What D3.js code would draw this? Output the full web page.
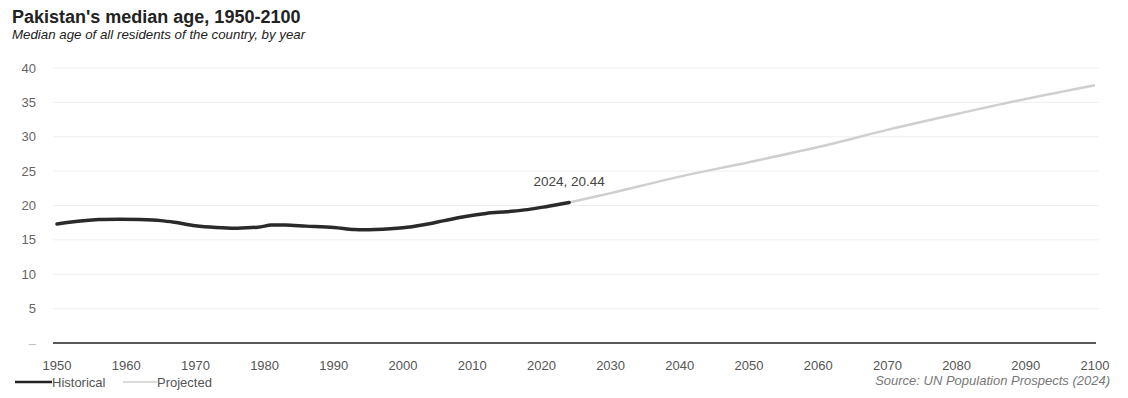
<!DOCTYPE html>
<html>
<script src="https://d3js.org/d3.v7.min.js"></script>
<style>
  body { margin: 0; background: #fff; }
  text { font-family: "Liberation Sans", Arial, sans-serif; }
</style>
<body>
<svg id="chart" width="1128" height="398"></svg>

<script>
    // historical median age
    const histYears = [1950, 1953, 1956, 1959, 1962, 1965, 1967, 1970, 1973, 1976, 1979, 1981, 1983, 1986, 1990, 1993, 1996, 2000, 2003, 2006, 2009, 2012, 2015, 2018, 2021, 2024];
    const histAge   = [17.3, 17.7, 17.95, 18.0, 17.95, 17.8, 17.55, 17.05, 16.8, 16.7, 16.85, 17.15, 17.15, 17.0, 16.8, 16.5, 16.5, 16.75, 17.2, 17.8, 18.4, 18.85, 19.1, 19.4, 19.9, 20.44];

    // projected
    const projYears = [2024, 2030, 2040, 2050, 2060, 2070, 2080, 2090, 2100];
    const projAge   = [20.44, 21.8, 24.2, 26.3, 28.5, 31.0, 33.3, 35.5, 37.5];

    const yTicks = [0, 5, 10, 15, 20, 25, 30, 35, 40];
    const xTicks = d3.range(1950, 2101, 10);

    const svg = d3.select("#chart");
    const margin = {left: 57, right: 33, top: 68, bottom: 55};
    const width = +svg.attr("width");
    const height = +svg.attr("height");

    const x = d3.scaleLinear().domain([1950, 2100]).range([margin.left, width - margin.right]);
    const y = d3.scaleLinear().domain([0, 40]).range([height - margin.bottom, margin.top]);

    // titles
    svg.append("text").attr("x", 12).attr("y", 23)
        .attr("font-size", 18).attr("font-weight", "bold").attr("fill", "#222")
        .text("Pakistan's median age, 1950-2100");
    svg.append("text").attr("x", 12).attr("y", 39)
        .attr("font-size", 13.3).attr("font-style", "italic").attr("fill", "#222")
        .text("Median age of all residents of the country, by year");

    // gridlines
    svg.append("g")
        .selectAll("line")
        .data(yTicks.filter(d => d > 0))
        .join("line")
        .attr("x1", x(1950) - 4).attr("x2", x(2100) + 4)
        .attr("y1", d => y(d)).attr("y2", d => y(d))
        .attr("stroke", "#efefef").attr("stroke-width", 1);

    // y labels
    svg.append("g")
        .selectAll("text")
        .data(yTicks)
        .join("text")
        .attr("x", 36).attr("y", d => y(d) + 4.5)
        .attr("text-anchor", "end")
        .attr("font-size", 13).attr("fill", d => d === 0 ? "#bbb" : "#666")
        .text(d => d === 0 ? "–" : d);

    // baseline
    svg.append("line")
        .attr("x1", x(1950) - 4).attr("x2", x(2100) + 1)
        .attr("y1", y(0)).attr("y2", y(0))
        .attr("stroke", "#222").attr("stroke-width", 1.5);

    // x labels
    svg.append("g")
        .selectAll("text")
        .data(xTicks)
        .join("text")
        .attr("x", d => x(d)).attr("y", 370)
        .attr("text-anchor", "middle")
        .attr("font-size", 13).attr("fill", "#555")
        .text(d => d);

    const line = d3.line()
        .x(d => x(d[0]))
        .y(d => y(d[1]))
        .curve(d3.curveCatmullRom.alpha(0.5));

    svg.append("path")
        .datum(d3.zip(projYears, projAge))
        .attr("fill", "none").attr("stroke", "#cfcfcf").attr("stroke-width", 2.5)
        .attr("d", line);

    svg.append("path")
        .datum(d3.zip(histYears, histAge))
        .attr("fill", "none").attr("stroke", "#2a2a2a").attr("stroke-width", 3.5)
        .attr("stroke-linecap", "round")
        .attr("d", line);

    // annotation
    svg.append("text")
        .attr("x", x(2024)).attr("y", y(20.44) - 16)
        .attr("text-anchor", "middle")
        .attr("font-size", 13.5).attr("fill", "#444")
        .text("2024,  20.44");

    // legend
    const legend = svg.append("g");
    legend.append("line").attr("x1", 15).attr("x2", 52).attr("y1", 382).attr("y2", 382)
        .attr("stroke", "#222").attr("stroke-width", 2.5);
    legend.append("text").attr("x", 52).attr("y", 386.5).attr("font-size", 13).attr("fill", "#555").text("Historical");
    legend.append("line").attr("x1", 123).attr("x2", 157).attr("y1", 382).attr("y2", 382)
        .attr("stroke", "#cfcfcf").attr("stroke-width", 1.5);
    legend.append("text").attr("x", 157).attr("y", 386.5).attr("font-size", 13).attr("fill", "#555").text("Projected");

    svg.append("text")
        .attr("x", 1110).attr("y", 385)
        .attr("text-anchor", "end")
        .attr("font-size", 13).attr("font-style", "italic").attr("fill", "#777")
        .text("Source: UN Population Prospects (2024)");
</script>

</body>
</html>
